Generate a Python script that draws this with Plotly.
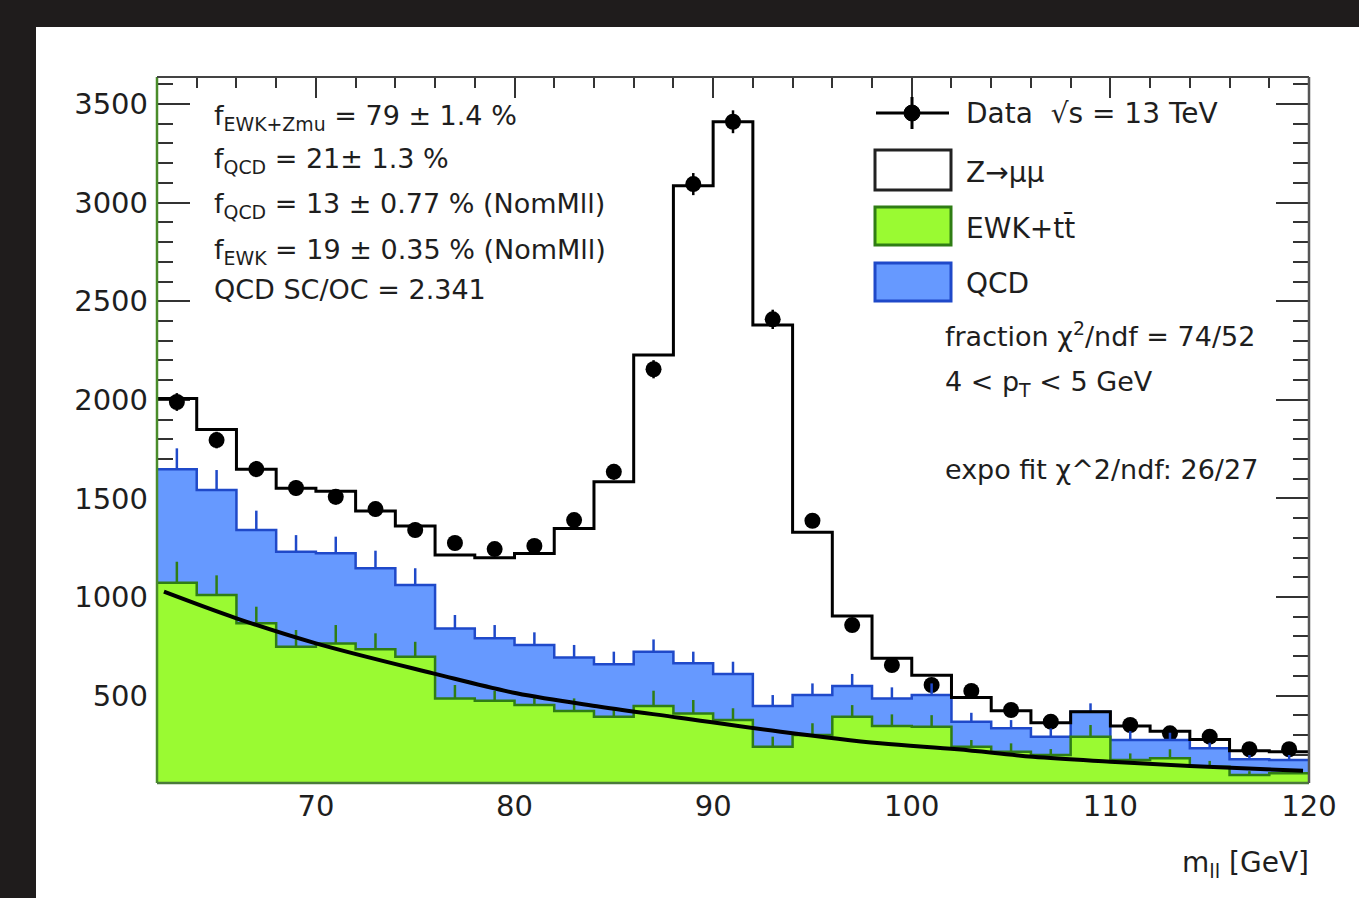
import plotly.graph_objects as go
import numpy as np

# ---------------- data ----------------
mass_centers = [63, 65, 67, 69, 71, 73, 75, 77, 79, 81, 83, 85, 87, 89, 91,
                93, 95, 97, 99, 101, 103, 105, 107, 109, 111, 113, 115, 117, 119]
bin_width = 2

data_counts = [1989, 1796, 1649, 1553, 1508, 1446, 1340, 1274, 1243, 1259, 1390, 1635,
               2155, 3094, 3410, 2408, 1387, 858, 655, 554, 524, 427, 368, 340, 351,
               309, 292, 228, 228]
data_err = [45, 42, 41, 39, 39, 38, 37, 36, 35, 35, 37, 40, 46, 56, 58, 49, 37, 29,
            26, 24, 23, 21, 19, 18, 19, 18, 17, 15, 15]

ewk_tt = [1073, 1010, 867, 748, 765, 735, 697, 486, 474, 452, 422, 393, 447, 410, 376,
          241, 300, 393, 346, 342, 241, 216, 199, 292, 173, 182, 139, 97, 106]
ewk_err = [106, 100, 84, 85, 93, 81, 76, 68, 50, 51, 64, 40, 78, 68, 60, 51, 60, 59,
           59, 59, 34, 42, 30, 59, 34, 46, 30, 20, 20]

qcd = [575, 533, 473, 482, 457, 411, 364, 355, 317, 305, 271, 266, 276, 254, 234,
       206, 203, 156, 140, 161, 127, 118, 93, 126, 102, 93, 94, 80, 67]
qcd_err = [106, 101, 98, 84, 84, 89, 85, 68, 67, 64, 64, 64, 62, 59, 62, 56, 59, 61,
           56, 59, 45, 42, 42, 43, 45, 42, 28, 22, 26]

z_mumu = [359, 307, 308, 321, 315, 290, 299, 372, 408, 464, 655, 926, 1504, 2422,
          2800, 1932, 825, 355, 203, 101, 123, 89, 71, 0, 71, 45, 45, 44, 43]

fit_x = [62.35, 66.0, 70.0, 75.9, 80.1, 84.3, 88.3, 93.4, 98.4, 102.3, 106.1, 110.0,
         114.0, 119.7]
fit_y = [1027, 892, 765, 613, 512, 444, 388, 317, 258, 228, 190, 165, 143, 119]

x_ticks = [70, 80, 90, 100, 110, 120]
y_ticks = [500, 1000, 1500, 2000, 2500, 3000, 3500]

# ---------------- derived stack ----------------
centers = np.array(mass_centers, dtype=float)
edges = list(centers - bin_width / 2) + [centers[-1] + bin_width / 2]
ewk_top = np.array(ewk_tt, dtype=float)
qcd_top = ewk_top + np.array(qcd, dtype=float)
tot_top = qcd_top + np.array(z_mumu, dtype=float)


def step_y(v):
    v = list(v)
    return v + [v[-1]]


GREEN_FILL = "#9afa32"
GREEN_LINE = "#2f7d14"
BLUE_FILL = "#6699ff"
BLUE_LINE = "#1f49c9"
FONT = "DejaVu Sans"
TXT = "#1e1e1e"

fig = go.Figure()

# data (drawn first so fills cover it where MC is above)
fig.add_trace(go.Scatter(
    x=centers, y=data_counts, mode="markers",
    marker=dict(size=16, color="black"),
    error_y=dict(type="data", array=data_err, width=0, thickness=2.5, color="black"),
    showlegend=False))

# QCD (stacked on EWK)
fig.add_trace(go.Scatter(
    x=edges, y=step_y(qcd_top), mode="lines", line_shape="hv",
    line=dict(color=BLUE_LINE, width=2.5), fill="tozeroy", fillcolor=BLUE_FILL,
    showlegend=False))
fig.add_trace(go.Scatter(
    x=centers, y=qcd_top, mode="markers",
    marker=dict(size=1, color="rgba(0,0,0,0)"),
    error_y=dict(type="data", symmetric=False, array=qcd_err, arrayminus=[0] * len(qcd_err),
                 width=0, thickness=2.5, color=BLUE_LINE),
    showlegend=False))

# EWK + ttbar
fig.add_trace(go.Scatter(
    x=edges, y=step_y(ewk_top), mode="lines", line_shape="hv",
    line=dict(color=GREEN_LINE, width=2.5), fill="tozeroy", fillcolor=GREEN_FILL,
    showlegend=False))
fig.add_trace(go.Scatter(
    x=centers, y=ewk_top, mode="markers",
    marker=dict(size=1, color="rgba(0,0,0,0)"),
    error_y=dict(type="data", symmetric=False, array=ewk_err, arrayminus=[0] * len(ewk_err),
                 width=0, thickness=2.5, color=GREEN_LINE),
    showlegend=False))

# Z -> mumu (hollow outline of the total stack)
fig.add_trace(go.Scatter(
    x=edges, y=step_y(tot_top), mode="lines", line_shape="hv",
    line=dict(color="black", width=3), showlegend=False))

# exponential fit curve
fig.add_trace(go.Scatter(
    x=fit_x, y=fit_y, mode="lines", line_shape="spline",
    line=dict(color="black", width=4), showlegend=False))

# ---------------- layout helpers (pixel -> paper) ----------------
L, R, T, B = 157, 1309, 77, 783


def px(x):
    return (x - L) / (R - L)


def py(y):
    return (B - y) / (B - T)


shapes = []
# white page (photo background is dark)
shapes.append(dict(type="rect", xref="paper", yref="paper", layer="below",
                   x0=px(36), x1=px(1362), y0=py(27), y1=py(901),
                   fillcolor="white", line=dict(width=0)))
# frame
shapes += [
    dict(type="line", xref="paper", yref="paper", x0=0, x1=0, y0=0, y1=1,
         line=dict(color="#4a8c2a", width=2.5)),
    dict(type="line", xref="paper", yref="paper", x0=0, x1=1, y0=0, y1=0,
         line=dict(color="#4a7a3a", width=2.5)),
    dict(type="line", xref="paper", yref="paper", x0=0, x1=1, y0=1, y1=1,
         line=dict(color="#444444", width=2)),
    dict(type="line", xref="paper", yref="paper", x0=1, x1=1, y0=0, y1=1,
         line=dict(color="#555555", width=2.5)),
]
# legend symbols
shapes += [
    dict(type="line", xref="paper", yref="paper", x0=px(876), x1=px(949), y0=py(113), y1=py(113),
         line=dict(color="black", width=3)),
    dict(type="line", xref="paper", yref="paper", x0=px(912), x1=px(912), y0=py(97), y1=py(129),
         line=dict(color="black", width=3)),
    dict(type="circle", xref="paper", yref="paper", x0=px(904), x1=px(920), y0=py(105), y1=py(121),
         fillcolor="black", line=dict(color="black", width=1)),
    dict(type="rect", xref="paper", yref="paper", x0=px(875), x1=px(951), y0=py(150), y1=py(190),
         fillcolor="white", line=dict(color="#222222", width=3)),
    dict(type="rect", xref="paper", yref="paper", x0=px(875), x1=px(951), y0=py(207), y1=py(245),
         fillcolor=GREEN_FILL, line=dict(color=GREEN_LINE, width=3)),
    dict(type="rect", xref="paper", yref="paper", x0=px(875), x1=px(951), y0=py(263), y1=py(301),
         fillcolor=BLUE_FILL, line=dict(color=BLUE_LINE, width=3)),
]


def note(text, x, y, size=27, xanchor="left"):
    return dict(text=text, xref="paper", yref="paper", x=px(x), y=py(y),
                xanchor=xanchor, yanchor="middle", showarrow=False,
                font=dict(family=FONT, size=size, color=TXT))


annotations = [
    note("f<sub>EWK+Zmu</sub> = 79 ± 1.4 %", 212, 117),
    note("f<sub>QCD</sub> = 21± 1.3 %", 212, 160),
    note("f<sub>QCD</sub> = 13 ± 0.77 % (NomMll)", 212, 205),
    note("f<sub>EWK</sub> = 19 ± 0.35 % (NomMll)", 212, 251),
    note("QCD SC/OC = 2.341", 212, 289),
    note("Data  √s = 13 TeV", 964, 113, size=28),
    note("Z→μμ", 964, 172, size=28),
    note("EWK+tt\u0304", 964, 228, size=28),
    note("QCD", 964, 283, size=28),
    note("fraction χ<sup>2</sup>/ndf = 74/52", 943, 334),
    note("4 < p<sub>T</sub> < 5 GeV", 943, 383),
    note("expo fit χ^2/ndf: 26/27", 943, 469),
    note("m<sub>ll</sub> [GeV]", 1311, 864, size=28, xanchor="right"),
]

fig.update_layout(
    width=1359, height=898,
    margin=dict(l=L, r=1359 - R, t=T, b=898 - B),
    paper_bgcolor="#1f1c1c", plot_bgcolor="white",
    shapes=shapes, annotations=annotations,
    hovermode=False, showlegend=False,
    xaxis=dict(range=[62, 120], tickvals=x_ticks, ticks="inside", ticklen=21, tickwidth=2,
               tickcolor="#333333", mirror="ticks", showline=False, showgrid=False,
               zeroline=False, layer="below traces", ticklabelstandoff=3,
               minor=dict(tick0=60, dtick=2, ticks="inside", ticklen=11, tickwidth=2,
                          tickcolor="#333333", showgrid=False),
               tickfont=dict(family=FONT, size=29, color=TXT)),
    yaxis=dict(range=[57, 3637], tickvals=y_ticks, ticks="inside", ticklen=33, tickwidth=2,
               tickcolor="#333333", mirror="ticks", showline=False, showgrid=False,
               zeroline=False, layer="below traces", ticklabelstandoff=8,
               minor=dict(tick0=0, dtick=100, ticks="inside", ticklen=16, tickwidth=2,
                          tickcolor="#333333", showgrid=False),
               tickfont=dict(family=FONT, size=29, color=TXT)),
)

fig.write_html("out.html")
